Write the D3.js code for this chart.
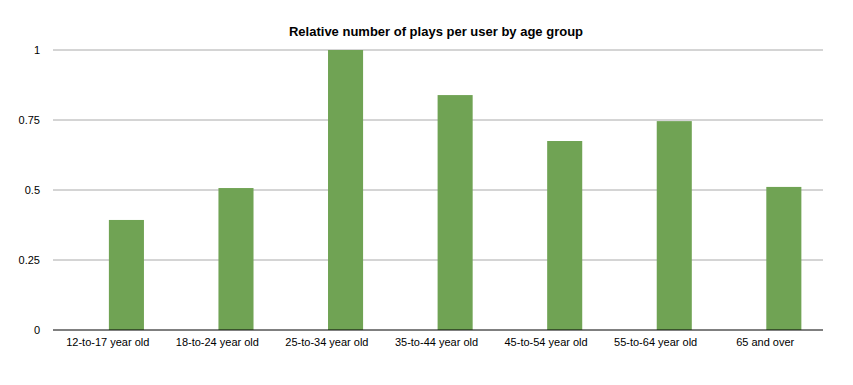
<!DOCTYPE html>
<html><head><meta charset="utf-8">
<script src="https://cdn.jsdelivr.net/npm/d3@7"></script>
<style>
body{margin:0;background:#fff;}
svg{display:block;font-family:"Liberation Sans",Arial,Helvetica,sans-serif;}
</style></head>
<body>
<svg id="chart" width="853" height="385"></svg>
<script>
const categories = ["12-to-17 year old","18-to-24 year old","25-to-34 year old","35-to-44 year old","45-to-54 year old","55-to-64 year old","65 and over"];
const values = [0.393, 0.507, 1.0, 0.839, 0.675, 0.746, 0.511];
const yTicks = [0, 0.25, 0.5, 0.75, 1];
const yTickLabels = ["0","0.25","0.5","0.75","1"];
const chartTitle = "Relative number of plays per user by age group";

(function(){
const svg = d3.select("#chart");
const mLeft = 53, mRight = 820, mTop = 50, mBottom = 330;

const x = d3.scaleBand().domain(categories).range([mLeft, mRight]).padding(0);
const y = d3.scaleLinear().domain([0, 1]).range([mBottom, mTop]);

// gridlines
svg.append("g").selectAll("line").data(yTicks.filter(d => d > 0)).join("line")
  .attr("x1", mLeft).attr("x2", mRight + 3)
  .attr("y1", d => y(d)).attr("y2", d => y(d))
  .attr("stroke", "#aaaaaa").attr("stroke-width", 1);

// y labels
svg.append("g").selectAll("text").data(yTicks).join("text")
  .attr("x", 40).attr("y", d => y(d)).attr("dy", "0.35em")
  .attr("text-anchor", "end").attr("font-size", 11).attr("fill", "#000")
  .text((d, i) => yTickLabels[i]);

// bars (offset to the right within each band)
const bw = x.bandwidth();
svg.append("g").selectAll("rect").data(values).join("rect")
  .attr("x", (d, i) => x(categories[i]) + bw * 0.51)
  .attr("width", bw * 0.32)
  .attr("y", d => y(d))
  .attr("height", d => y(0) - y(d))
  .attr("fill", "#70a354");

// baseline
svg.append("line").attr("x1", mLeft).attr("x2", mRight + 3)
  .attr("y1", y(0)).attr("y2", y(0)).attr("stroke", "#000").attr("stroke-width", 1);

// x labels
svg.append("g").selectAll("text").data(categories).join("text")
  .attr("x", d => x(d) + bw / 2).attr("y", 346)
  .attr("text-anchor", "middle").attr("font-size", 11).attr("fill", "#000")
  .text(d => d);

// title
svg.append("text").attr("x", 436).attr("y", 36)
  .attr("text-anchor", "middle").attr("font-size", 13).attr("font-weight", "bold")
  .attr("fill", "#000").text(chartTitle);
})();
</script>
</body></html>
